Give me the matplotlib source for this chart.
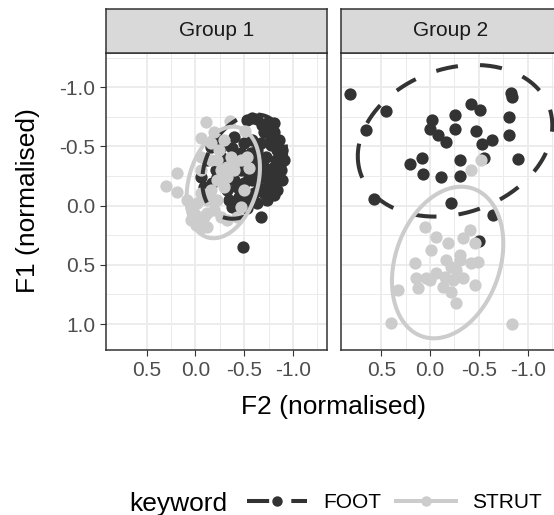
import numpy as np
import matplotlib
matplotlib.use('Agg')
import matplotlib.pyplot as plt
from matplotlib.lines import Line2D

plt.rcParams['font.family'] = ['Liberation Sans', 'DejaVu Sans']
plt.rcParams['axes.unicode_minus'] = False

# F2 / F1 values, per facet and keyword
g1_foot_f2 = [-0.531, -0.634, -0.737, -0.805, -0.856, -0.890, -0.907, -0.873, -0.890, -0.839,
              -0.805, -0.737, -0.754, -0.719, -0.668, -0.583, -0.497, -0.463, -0.531, -0.463,
              -0.395, -0.429, -0.344, -0.429, -0.531, -0.634, -0.600, -0.668, -0.156, -0.224,
              -0.122, -0.207, -0.293, -0.378, -0.395, -0.258, -0.771, -0.822, -0.702, -0.634,
              -0.583, -0.497, -0.675, -0.491, -0.053, -0.088, -0.737,
              -0.583, -0.685, -0.771, -0.839, -0.805, -0.839, -0.788, -0.702, -0.651, -0.702,
              -0.617, -0.634, -0.566, -0.549, -0.446, -0.378, -0.531, -0.327, -0.258, -0.805,
              -0.719, -0.224, -0.173]
g1_foot_f1 = [-0.724, -0.730, -0.696, -0.625, -0.555, -0.470, -0.386, -0.302, -0.217, -0.133,
              -0.090, -0.161, -0.302, -0.414, -0.527, -0.555, -0.527, -0.442, -0.386, -0.302,
              -0.217, -0.161, -0.048, 0.008, -0.048, -0.020, -0.104, -0.245, -0.499, -0.555,
              -0.386, -0.302, -0.372, -0.485, -0.583, -0.414, -0.513, -0.386, -0.625, -0.386,
              -0.217, -0.189, 0.093, 0.346, -0.245, -0.161, -0.048,
              -0.738, -0.682, -0.583, -0.470, -0.330, -0.245, -0.175, -0.105, -0.147, -0.330,
              -0.302, -0.470, -0.442, -0.245, -0.076, 0.008, 0.022, -0.133, -0.499, -0.696,
              -0.245, -0.245, -0.189]

g1_strut_f2 = [-0.105, -0.354, -0.504, -0.053, 0.298, 0.186, 0.193, -0.190, -0.293, -0.361,
               -0.327, -0.531, -0.549, -0.497, -0.395, -0.258, -0.224, -0.156, -0.053, -0.019,
               -0.122, 0.015, -0.002, -0.088, -0.190, -0.258, -0.327, -0.429, -0.463, -0.053,
               -0.241, -0.156, -0.395, -0.293, -0.224, -0.053, 0.049, -0.122,
               0.083, 0.049, -0.053, -0.122, -0.190, -0.327, -0.463, -0.224, -0.053, -0.156]
g1_strut_f1 = [-0.710, -0.718, -0.634, -0.569, -0.166, -0.273, -0.118, -0.625, -0.555, -0.414,
               -0.330, -0.414, -0.316, -0.133, -0.302, -0.302, -0.217, -0.133, -0.105, -0.020,
               -0.048, 0.064, 0.163, 0.093, 0.036, 0.093, 0.121, 0.093, 0.008, -0.302,
               -0.471, -0.386, -0.358, -0.161, -0.048, 0.191, 0.121, 0.177,
               -0.048, 0.008, 0.093, 0.064, -0.048, -0.245, -0.386, -0.386, -0.414, -0.527]

g2_foot_f2 = [0.815, 0.456, 0.660, -0.020, 0.005, -0.080, -0.166, -0.260, -0.260, -0.420,
              -0.510, -0.470, -0.530, -0.630, -0.550, -0.830, -0.840, -0.810, -0.810, -0.900,
              0.210, 0.080, 0.074, -0.110, -0.310, -0.310, 0.570, -0.210, -0.640, -0.500]
g2_foot_f1 = [-0.940, -0.800, -0.640, -0.720, -0.650, -0.600, -0.540, -0.770, -0.650, -0.860,
              -0.810, -0.630, -0.520, -0.555, -0.405, -0.950, -0.920, -0.750, -0.600, -0.390,
              -0.350, -0.405, -0.270, -0.240, -0.386, -0.250, -0.060, -0.025, 0.080, 0.300]

g2_strut_f2 = [-0.524, -0.422, 0.056, -0.063, -0.183, -0.012, -0.336, -0.405, -0.456, -0.302,
               -0.166, 0.159, -0.063, 0.039, 0.142, -0.217, -0.268, -0.422, -0.490, -0.336,
               -0.131, -0.217, -0.268, 0.125, 0.330, 0.398, -0.842, -0.456, 0.005, -0.302,
               -0.149, -0.234]
g2_strut_f1 = [-0.386, -0.302, 0.177, 0.262, 0.318, 0.374, 0.276, 0.205, 0.318, 0.416,
               0.459, 0.487, 0.571, 0.613, 0.613, 0.515, 0.543, 0.487, 0.473, 0.613,
               0.684, 0.726, 0.825, 0.698, 0.712, 0.994, 1.002, 0.670, 0.628, 0.459,
               0.599, 0.628]

# ellipse: centre (F2, F1) and shape matrix terms
g1_foot_ell = [(-0.50, -0.33), 0.185, 0.194, 0.053]
g1_strut_ell = [(-0.286, -0.196), 0.141, 0.222, 0.047]
g2_foot_ell = [(-0.256, -0.548), 0.992, 0.410, 0.130]
g2_strut_ell = [(-0.18, 0.48), 0.325, 0.410, 0.090]

groups = ['Group 1', 'Group 2']
keywords = ['FOOT', 'STRUT']
colours = {'FOOT': '#333333', 'STRUT': '#CCCCCC'}
styles = {'FOOT': 'dashed', 'STRUT': 'solid'}

data = {
    'Group 1': {'FOOT': (g1_foot_f2, g1_foot_f1, g1_foot_ell),
                'STRUT': (g1_strut_f2, g1_strut_f1, g1_strut_ell)},
    'Group 2': {'FOOT': (g2_foot_f2, g2_foot_f1, g2_foot_ell),
                'STRUT': (g2_strut_f2, g2_strut_f1, g2_strut_ell)},
}


def ellipse_path(ell, n=300):
    centre, sxx, syy, sxy = ell
    L = np.linalg.cholesky(np.array([[sxx, sxy], [sxy, syy]]))
    t = np.linspace(0, 2 * np.pi, n)
    pts = L @ np.vstack([np.cos(t), np.sin(t)])
    return centre[0] + pts[0], centre[1] + pts[1]


W, H = 554, 515
fig = plt.figure(figsize=(W / 100, H / 100), dpi=100)

panel_left = [106, 340.7]
panel_w = 220.7
panel_top, panel_bottom = 52.7, 350
strip_top = 9.3

dash_on = (5.5, 5.5)
small = 15
big = 19

for i, g in enumerate(groups):
    x0 = panel_left[i] / W
    ax = fig.add_axes([x0, 1 - panel_bottom / H, panel_w / W, (panel_bottom - panel_top) / H])
    ax.set_xlim(0.915, -1.345)
    ax.set_ylim(1.219, -1.292)

    ax.set_xticks([0.5, 0.0, -0.5, -1.0])
    ax.set_xticks([0.25, -0.25, -0.75, -1.25], minor=True)
    ax.set_yticks([-1.0, -0.5, 0.0, 0.5, 1.0])
    ax.set_yticks([-1.25, -0.75, -0.25, 0.25, 0.75], minor=True)
    ax.grid(which='major', color='#EBEBEB', linewidth=1.3, zorder=0)
    ax.grid(which='minor', color='#EBEBEB', linewidth=0.7, zorder=0)
    ax.set_axisbelow(True)
    ax.tick_params(which='minor', length=0)
    ax.tick_params(which='major', length=4.3, width=0.8, color='#333333',
                   labelsize=small, labelcolor='#4D4D4D', pad=3.5)
    if i > 0:
        ax.tick_params(axis='y', labelleft=False, left=False)
    for sp in ax.spines.values():
        sp.set_color('#333333')
        sp.set_linewidth(1.1)

    for k in keywords:
        f2, f1, _ = data[g][k]
        ax.scatter(f2, f1, s=78, color=colours[k], linewidths=0, zorder=2)
    for k in keywords:
        ex, ey = ellipse_path(data[g][k][2])
        line, = ax.plot(ex, ey, color=colours[k], linewidth=2.9, zorder=3)
        if styles[k] == 'dashed':
            line.set_dashes(dash_on)

    # facet strip
    sax = fig.add_axes([x0, 1 - panel_top / H, panel_w / W, (panel_top - strip_top) / H])
    sax.set_facecolor('#D9D9D9')
    sax.set_xticks([])
    sax.set_yticks([])
    for sp in sax.spines.values():
        sp.set_color('#333333')
        sp.set_linewidth(1.1)
    sax.text(0.5, 0.5, g, ha='center', va='center', fontsize=small, color='#1A1A1A',
             transform=sax.transAxes)

fig.text(333.7 / W, 1 - 407 / H, 'F2 (normalised)', ha='center', va='center', fontsize=big)
fig.text(28 / W, 1 - 201 / H, 'F1 (normalised)', ha='center', va='center', fontsize=big,
         rotation=90)

# legend along the bottom
fig.text(129 / W, 1 - 511 / H, 'keyword', ha='left', va='baseline', fontsize=big)
handles = []
for k in keywords:
    h = Line2D([], [], color=colours[k], linewidth=2.9, marker='o', markersize=7.5,
               markeredgewidth=0)
    if styles[k] == 'dashed':
        h.set_dashes(dash_on)
    handles.append(h)
fig.legend(handles, keywords, loc='center left', bbox_to_anchor=(247 / W, 1 - 502.5 / H),
           ncol=2, frameon=False, fontsize=small, handlelength=2.9, handletextpad=0.75,
           columnspacing=0.7, borderaxespad=0, borderpad=0)

fig.savefig('out.png', dpi=100)
